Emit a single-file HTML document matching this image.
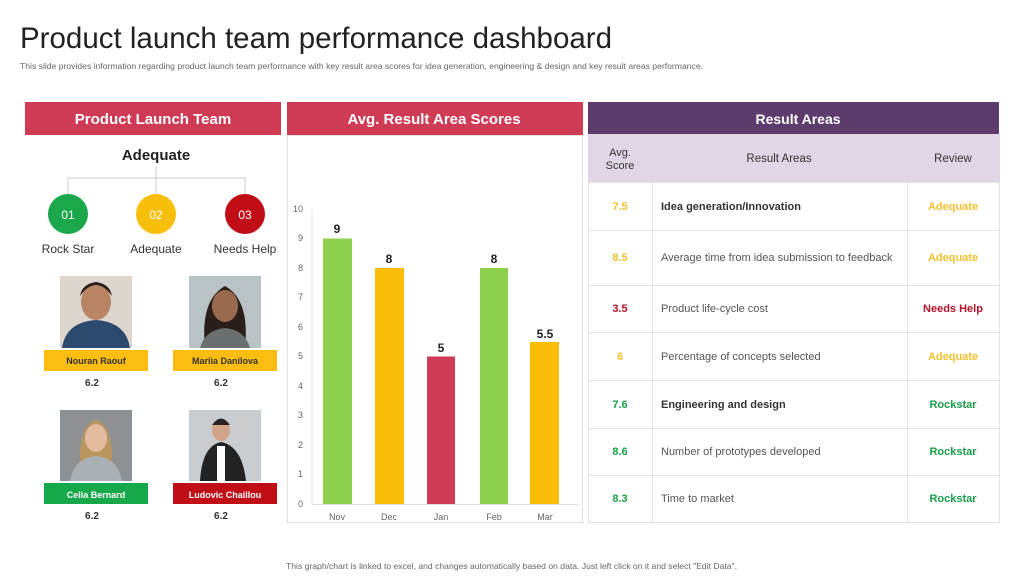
<!DOCTYPE html>
<html><head><meta charset="utf-8"><style>
html,body{margin:0;padding:0;background:#fff;}
svg{display:block;font-family:"Liberation Sans",Arial,sans-serif;}
</style></head><body>
<svg width="1024" height="576" viewBox="0 0 1024 576" xmlns="http://www.w3.org/2000/svg">
<rect width="1024" height="576" fill="#fff"/>
<text x="20" y="48" font-size="29.5" fill="#222">Product launch team performance dashboard</text>
<text x="20" y="69" font-size="8.4" fill="#666" textLength="683" lengthAdjust="spacingAndGlyphs">This slide provides information regarding product launch team performance with key result area scores for idea generation, engineering &amp; design and key result areas performance.</text>

<!-- Left panel -->
<rect x="25" y="102" width="256" height="33" fill="#cf3a55"/>
<text x="153" y="124" font-size="15" font-weight="bold" fill="#fff" text-anchor="middle">Product Launch Team</text>
<text x="156" y="160" font-size="15" font-weight="bold" fill="#222" text-anchor="middle">Adequate</text>
<path d="M156 166 V178 M68 194 V178 H245 V194 M156 178 V194" stroke="#ccc" stroke-width="1" fill="none"/>
<circle cx="68" cy="214" r="20" fill="#1aa84a"/><text x="68" y="219" font-size="12" fill="#fff" text-anchor="middle">01</text>
<circle cx="156" cy="214" r="20" fill="#f8bf0a"/><text x="156" y="219" font-size="12" fill="#fff" text-anchor="middle">02</text>
<circle cx="245" cy="214" r="20" fill="#c00d16"/><text x="245" y="219" font-size="12" fill="#fff" text-anchor="middle">03</text>
<text x="68" y="253" font-size="12" fill="#333" text-anchor="middle">Rock Star</text>
<text x="156" y="253" font-size="12" fill="#333" text-anchor="middle">Adequate</text>
<text x="245" y="253" font-size="12" fill="#333" text-anchor="middle">Needs Help</text>

<!-- photos -->
<g>
<rect x="60" y="276" width="72" height="72" fill="#ddd6cf"/>
<ellipse cx="96" cy="302" rx="15" ry="18" fill="#b98564"/><path d="M80 296 Q96 274 112 296 Q110 284 96 282 Q82 284 80 296Z" fill="#2a1d17"/>
<path d="M62 348 Q66 322 96 320 Q126 322 130 348Z" fill="#2c4a6e"/>
<rect x="189" y="276" width="72" height="72" fill="#b9c3c5"/>
<path d="M205 348 Q200 300 225 286 Q250 300 245 348Z" fill="#2a1e1a"/>
<ellipse cx="225" cy="306" rx="13" ry="16" fill="#9a6a4e"/>
<path d="M200 348 Q205 330 225 328 Q245 330 250 348Z" fill="#6a7070"/>
<rect x="60" y="410" width="72" height="71" fill="#8e9294"/>
<path d="M80 470 Q78 425 96 420 Q114 425 112 470Z" fill="#b9955f"/>
<ellipse cx="96" cy="438" rx="11" ry="14" fill="#e3b9a0"/>
<path d="M70 481 Q74 458 96 456 Q118 458 122 481Z" fill="#aab0b6"/>
<rect x="189" y="410" width="72" height="71" fill="#c9cdd0"/>
<ellipse cx="221" cy="430" rx="9" ry="11" fill="#d2a58a"/>
<path d="M212 425 Q221 412 230 425Z" fill="#2a2220"/>
<path d="M200 481 Q202 446 221 442 Q242 446 246 481Z" fill="#222"/>
<rect x="217" y="446" width="8" height="35" fill="#fff"/>
</g>
<rect x="44" y="350" width="104" height="21" fill="#fbbd10"/><text x="96" y="364" font-size="9" font-weight="bold" fill="#333" text-anchor="middle">Nouran Raouf</text>
<rect x="173" y="350" width="104" height="21" fill="#fbbd10"/><text x="225" y="364" font-size="9" font-weight="bold" fill="#333" text-anchor="middle">Mariia Danilova</text>
<text x="92" y="386" font-size="10" font-weight="bold" fill="#333" text-anchor="middle">6.2</text>
<text x="221" y="386" font-size="10" font-weight="bold" fill="#333" text-anchor="middle">6.2</text>
<rect x="44" y="483" width="104" height="21" fill="#17a84a"/><text x="96" y="498" font-size="9" font-weight="bold" fill="#fff" text-anchor="middle">Celia Bernard</text>
<rect x="173" y="483" width="104" height="21" fill="#c00d16"/><text x="225" y="498" font-size="9" font-weight="bold" fill="#fff" text-anchor="middle">Ludovic Chaillou</text>
<text x="92" y="519" font-size="10" font-weight="bold" fill="#333" text-anchor="middle">6.2</text>
<text x="221" y="519" font-size="10" font-weight="bold" fill="#333" text-anchor="middle">6.2</text>

<!-- Middle panel -->
<rect x="287.5" y="135.5" width="295" height="387" fill="none" stroke="#e2e2e2"/>
<rect x="287" y="102" width="296" height="33" fill="#cf3a55"/>
<text x="434" y="124" font-size="15" font-weight="bold" fill="#fff" text-anchor="middle">Avg. Result Area Scores</text>
<line x1="312" y1="209" x2="312" y2="504" stroke="#e4e4e4"/>
<line x1="312" y1="504.5" x2="578" y2="504.5" stroke="#ddd"/>
<g font-size="9" fill="#666" text-anchor="end">
<text x="303" y="212">10</text><text x="303" y="241">9</text><text x="303" y="271">8</text><text x="303" y="300">7</text><text x="303" y="330">6</text><text x="303" y="359">5</text><text x="303" y="389">4</text><text x="303" y="418">3</text><text x="303" y="448">2</text><text x="303" y="477">1</text><text x="303" y="507">0</text>
</g>
<rect x="323" y="238.5" width="29" height="265.5" fill="#8dd04d"/>
<rect x="375" y="268" width="29" height="236" fill="#fbbd08"/>
<rect x="427" y="356.5" width="28" height="147.5" fill="#cf3a55"/>
<rect x="480" y="268" width="28" height="236" fill="#8dd04d"/>
<rect x="530" y="342" width="29" height="162" fill="#fbbd08"/>
<g font-size="12" font-weight="bold" fill="#222" text-anchor="middle">
<text x="337" y="233">9</text><text x="389" y="263">8</text><text x="441" y="352">5</text><text x="494" y="263">8</text><text x="545" y="338">5.5</text>
</g>
<g font-size="9" fill="#666" text-anchor="middle">
<text x="337" y="520">Nov</text><text x="389" y="520">Dec</text><text x="441" y="520">Jan</text><text x="494" y="520">Feb</text><text x="545" y="520">Mar</text>
</g>

<!-- Right panel -->
<rect x="588" y="102" width="411" height="32" fill="#5d3b6c"/>
<text x="798" y="124" font-size="14" font-weight="bold" fill="#fff" text-anchor="middle">Result Areas</text>
<rect x="588" y="134" width="412" height="48" fill="#e0d6e6"/>
<text x="620" y="156" font-size="11" fill="#333" text-anchor="middle">Avg.</text>
<text x="620" y="169" font-size="11" fill="#333" text-anchor="middle">Score</text>
<text x="779" y="162" font-size="11.5" fill="#333" text-anchor="middle">Result Areas</text>
<text x="953" y="162" font-size="11.5" fill="#333" text-anchor="middle">Review</text>
<g stroke="#e3e3e3" fill="none">
<rect x="588.5" y="182.5" width="411" height="340"/>
<line x1="652.5" y1="182" x2="652.5" y2="522"/><line x1="907.5" y1="182" x2="907.5" y2="522"/>
<line x1="588" y1="230.5" x2="1000" y2="230.5"/><line x1="588" y1="285.5" x2="1000" y2="285.5"/><line x1="588" y1="332.5" x2="1000" y2="332.5"/><line x1="588" y1="380.5" x2="1000" y2="380.5"/><line x1="588" y1="428.5" x2="1000" y2="428.5"/><line x1="588" y1="475.5" x2="1000" y2="475.5"/>
</g>
<g font-size="11">
<text x="620" y="210" fill="#f2c12e" font-weight="bold" text-anchor="middle">7.5</text>
<text x="661" y="210" fill="#333" font-weight="bold">Idea generation/Innovation</text>
<text x="953" y="210" fill="#f2c12e" font-weight="bold" text-anchor="middle">Adequate</text>
<text x="620" y="261" fill="#f2c12e" font-weight="bold" text-anchor="middle">8.5</text>
<text x="661" y="261" fill="#555">Average time from idea submission to feedback</text>
<text x="953" y="261" fill="#f2c12e" font-weight="bold" text-anchor="middle">Adequate</text>
<text x="620" y="312" fill="#b3122a" font-weight="bold" text-anchor="middle">3.5</text>
<text x="661" y="312" fill="#555">Product life-cycle cost</text>
<text x="953" y="312" fill="#b3122a" font-weight="bold" text-anchor="middle">Needs Help</text>
<text x="620" y="360" fill="#f2c12e" font-weight="bold" text-anchor="middle">6</text>
<text x="661" y="360" fill="#555">Percentage of concepts selected</text>
<text x="953" y="360" fill="#f2c12e" font-weight="bold" text-anchor="middle">Adequate</text>
<text x="620" y="408" fill="#1a9e4a" font-weight="bold" text-anchor="middle">7.6</text>
<text x="661" y="408" fill="#333" font-weight="bold">Engineering and design</text>
<text x="953" y="408" fill="#1a9e4a" font-weight="bold" text-anchor="middle">Rockstar</text>
<text x="620" y="455" fill="#1a9e4a" font-weight="bold" text-anchor="middle">8.6</text>
<text x="661" y="455" fill="#555">Number of prototypes developed</text>
<text x="953" y="455" fill="#1a9e4a" font-weight="bold" text-anchor="middle">Rockstar</text>
<text x="620" y="502" fill="#1a9e4a" font-weight="bold" text-anchor="middle">8.3</text>
<text x="661" y="502" fill="#555">Time to market</text>
<text x="953" y="502" fill="#1a9e4a" font-weight="bold" text-anchor="middle">Rockstar</text>
</g>

<text x="286" y="569" font-size="8.5" fill="#666" textLength="451" lengthAdjust="spacingAndGlyphs">This graph/chart is linked to excel, and changes automatically based on data. Just left click on it and select "Edit Data".</text>
</svg>
</body></html>
